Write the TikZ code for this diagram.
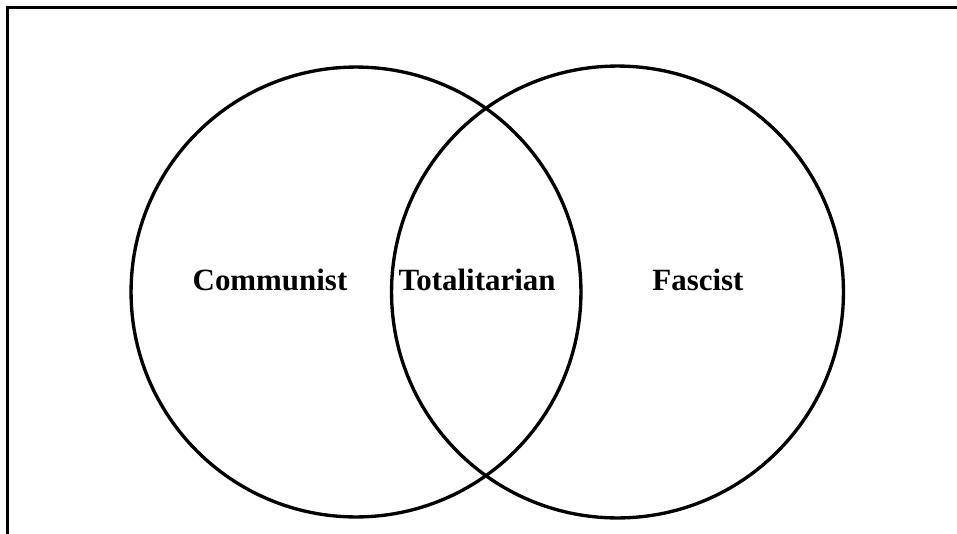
\documentclass[tikz,border=0pt]{standalone}
\usepackage{fontspec}
\setmainfont{Liberation Serif}
\usepackage{tikz}
\usetikzlibrary{positioning}
\tikzset{
  set/.style   ={draw=black, line width=1.9pt, circle, inner sep=0pt},
  lbl/.style   ={font=\fontsize{17.6}{20}\selectfont\bfseries, inner sep=0pt},
  frame/.style ={draw=black, line width=1.9pt}
}
\begin{document}
\begin{tikzpicture}[x=0.02cm, y=-0.02cm]
\useasboundingbox (0,0) rectangle (957,534);
% frame, only top and left edges show
\coordinate (ftl) at (7.5,7.5);
\coordinate (ftr) at (960,7.5);
\coordinate (fbl) at (7.5,540);
\draw[frame] (fbl) -- (ftl) -- (ftr);

% the two sets
\node[set, minimum size=9.0cm] (comm) at (356,292) {};
\node[set, minimum size=9.04cm] (fasc) at (617.5,292) {};

% labels
\node[lbl] (lcomm) at (270,280) {Communist};
\node[lbl] (ltot)  at (477,280) {Totalitarian};
\node[lbl] (lfasc) at (698,280) {Fascist};
\end{tikzpicture}
\end{document}
